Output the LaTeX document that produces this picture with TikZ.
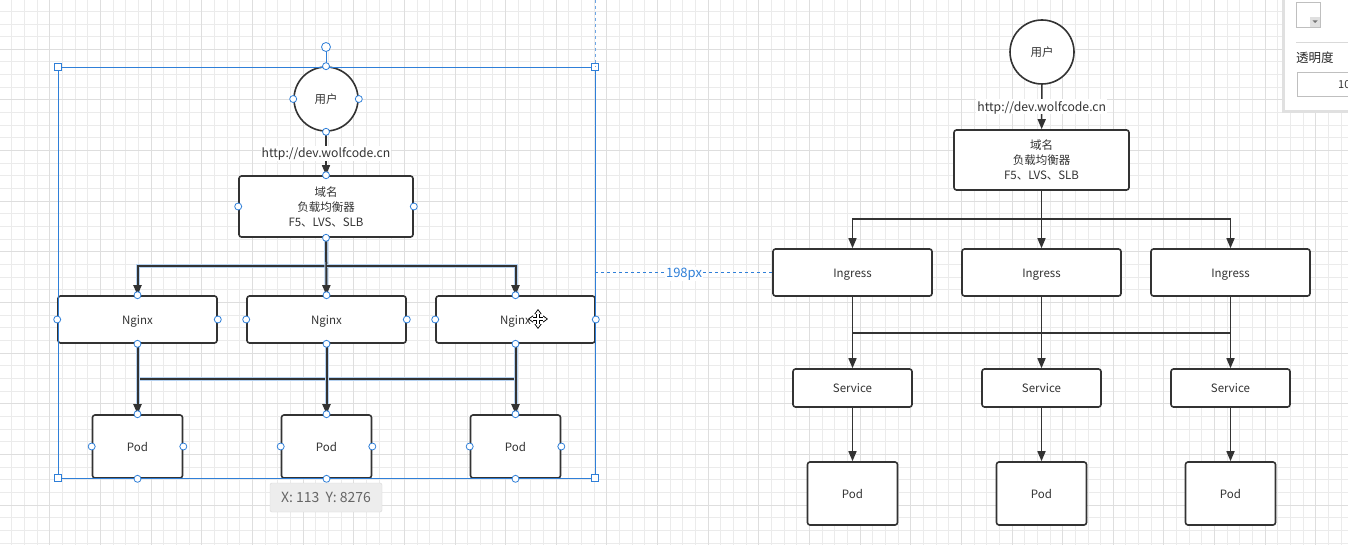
\documentclass[tikz,border=0pt]{standalone}
\usepackage{fontspec}
\setmainfont{Noto Sans CJK SC}
\usetikzlibrary{arrows.meta,positioning,calc}
\definecolor{linec}{HTML}{333333}
\definecolor{selc}{HTML}{2F7FD8}
\definecolor{gridc}{HTML}{EBEBEB}
\definecolor{gridm}{HTML}{DEDEDE}
\tikzset{
    >={Triangle[length=10pt,width=8pt]},
    user/.style={
        circle,
        draw=linec, line width=1.6pt,
        fill=white,
        minimum size=64pt,
        inner sep=0pt,
        text=linec,
        font={\fontsize{11.5pt}{13pt}\selectfont}
    },
    box/.style={
        rectangle,
        rounded corners=2.5pt,
        draw=linec, line width=1.6pt,
        fill=white,
        inner sep=0pt,
        align=center,
        text=linec,
        font={\fontsize{11.5pt}{15pt}\selectfont}
    },
    oneline/.style={text height=10pt, text depth=1pt},
    link/.style={draw=linec, line width=1.5pt},
    sellink/.style={draw=linec, line width=2pt,
        preaction={draw=selc!35, line width=4pt, -}},
    urlabel/.style={fill=white, inner sep=1pt, text=linec,
        text height=11pt, text depth=2pt,
        font={\fontsize{12.2pt}{14pt}\selectfont}},
    handle/.style={draw=selc, fill=white, line width=0.8pt},
}

\begin{document}
\begin{tikzpicture}[x=1pt,y=-1pt]
    \useasboundingbox (0,0) rectangle (1348,545);
    \fill[white] (0,0) rectangle (1348,545);

    % grid of the canvas
    \foreach \i in {0,...,107}
        \draw[gridc, line width=0.6pt] ({-0.96+12.66*\i},0) -- ++(0,545);
    \foreach \i in {0,...,44}
        \draw[gridc, line width=0.6pt] (0,{-1.5+12.66*\i}) -- ++(1348,0);
    \foreach \i in {0,...,27}
        \draw[gridm, line width=0.6pt] ({-0.96+50.64*\i},0) -- ++(0,545);
    \foreach \i in {0,...,11}
        \draw[gridm, line width=0.6pt] (0,{-1.5+50.64*\i}) -- ++(1348,0);

    % left diagram (selected)
    \node[user] (u1) at (326,99) {用户};
    \node[box, minimum width=174pt, minimum height=61pt] (lb1) at (326,206.5)
        {域名\\负载均衡器\\F5、LVS、SLB};

    \node[box, oneline, minimum width=159pt, minimum height=47pt] (ng1) at (137.5,319.5) {Nginx};
    \node[box, oneline, minimum width=159pt, minimum height=47pt] (ng2) at (326.5,319.5) {Nginx};
    \node[box, oneline, minimum width=159pt, minimum height=47pt] (ng3) at (515.5,319.5) {Nginx};

    \node[box, oneline, minimum width=90pt, minimum height=63pt] (pd1) at (137.5,446.5) {Pod};
    \node[box, oneline, minimum width=90pt, minimum height=63pt] (pd2) at (326.5,446.5) {Pod};
    \node[box, oneline, minimum width=90pt, minimum height=63pt] (pd3) at (515.5,446.5) {Pod};

    \coordinate (j1) at (326.5,266);
    \coordinate (b1) at (137.5,379);
    \coordinate (b3) at (515.5,379);

    \draw[link,->] (u1) -- (lb1) node[urlabel, midway] {http://dev.wolfcode.cn};
    \draw[sellink] (lb1) -- (j1);
    \draw[sellink,->] (j1) -| (ng1);
    \draw[sellink,->] (lb1) -- (ng2);
    \draw[sellink,->] (j1) -| (ng3);
    \draw[sellink] (b1) -- (b3);
    \foreach \k in {1,2,3}
        \draw[sellink,->] (ng\k) -- (pd\k);

    % selection frame and handles
    \draw[selc, line width=0.8pt] (58,67) rectangle (595,478);
    \draw[selc, line width=0.8pt] (326,51) -- (326,67);
    \path[handle] (326,47) circle (4.5pt);
    \foreach \p in {(58,67),(595,67),(58,478),(595,478)}
        \path[handle] \p ++(-3.5,-3.5) rectangle ++(7,7);
    \foreach \n in {u1,lb1,ng1,ng2,ng3,pd1,pd2,pd3}
        \foreach \a in {north,south,east,west}
            \path[handle] (\n.\a) circle (3.5pt);

    % move cursor
    \begin{scope}[shift={(538,319)}]
        \draw[black, line width=3.2pt, {Triangle[length=5pt,width=7pt]}-{Triangle[length=5pt,width=7pt]}]
            (-10,0) -- (10,0);
        \draw[black, line width=3.2pt, {Triangle[length=5pt,width=7pt]}-{Triangle[length=5pt,width=7pt]}]
            (0,-10) -- (0,10);
        \draw[white, line width=1.4pt, {Triangle[length=3.5pt,width=4.5pt]}-{Triangle[length=3.5pt,width=4.5pt]}]
            (-8.6,0) -- (8.6,0);
        \draw[white, line width=1.4pt, {Triangle[length=3.5pt,width=4.5pt]}-{Triangle[length=3.5pt,width=4.5pt]}]
            (0,-8.6) -- (0,8.6);
    \end{scope}

    % guides
    \draw[selc!70, dashed, line width=0.5pt] (595,0) -- (595,67);
    \draw[selc, dashed, line width=0.7pt] (595,272) -- (773,272)
        node[midway, fill=white, inner sep=1pt, text=selc, yshift=-2pt,
             font={\fontsize{13pt}{15pt}\selectfont}] {198px};

    % position tooltip
    \node[fill=black!7, draw=black!15, rounded corners=2pt, minimum width=112pt,
          minimum height=29pt, text=black!60, text height=11pt, text depth=2pt,
          font={\fontsize{14pt}{16pt}\selectfont}] (tip) at (326,497.5) {X: 113\ \ Y: 8276};

    % right diagram
    \node[user] (u2) at (1042,52) {用户};
    \node[box, minimum width=175pt, minimum height=60pt] (lb2) at (1041.5,160)
        {域名\\负载均衡器\\F5、LVS、SLB};

    \node[box, oneline, minimum width=159pt, minimum height=47pt] (in1) at (852.5,272.5) {Ingress};
    \node[box, oneline, minimum width=159pt, minimum height=47pt] (in2) at (1041.5,272.5) {Ingress};
    \node[box, oneline, minimum width=159pt, minimum height=47pt] (in3) at (1230.5,272.5) {Ingress};

    \node[box, oneline, minimum width=119pt, minimum height=38pt] (sv1) at (852.5,388) {Service};
    \node[box, oneline, minimum width=119pt, minimum height=38pt] (sv2) at (1041.5,388) {Service};
    \node[box, oneline, minimum width=119pt, minimum height=38pt] (sv3) at (1230.5,388) {Service};

    \node[box, oneline, minimum width=90pt, minimum height=63pt] (po1) at (852.5,493.5) {Pod};
    \node[box, oneline, minimum width=90pt, minimum height=63pt] (po2) at (1041.5,493.5) {Pod};
    \node[box, oneline, minimum width=90pt, minimum height=63pt] (po3) at (1230.5,493.5) {Pod};

    \coordinate (j2) at (1041.5,219);
    \coordinate (c1) at (852.5,333);
    \coordinate (c3) at (1230.5,333);

    \draw[link,->] (u2) -- (lb2) node[urlabel, midway] {http://dev.wolfcode.cn};
    \draw[link] (lb2) -- (j2);
    \draw[link,->] (j2) -| (in1);
    \draw[link,->] (lb2) -- (in2);
    \draw[link,->] (j2) -| (in3);
    \draw[link] (c1) -- (c3);
    \foreach \k in {1,2,3} {
        \draw[link,->] (in\k) -- (sv\k);
        \draw[link,->] (sv\k) -- (po\k);
    }

    % format panel
    \fill[black!12] (1282,0) rectangle (1348,113);
    \fill[white] (1285,0) rectangle (1348,110);
    \draw[black!25, line width=0.7pt] (1296,2) rectangle (1320,27);
    \fill[white] (1298,4) rectangle (1318,25);
    \fill[black!12] (1310,17) rectangle (1320,27);
    \fill[black!55] (1312.5,20.5) -- (1317.5,20.5) -- (1315,23) -- cycle;
    \draw[black!15, line width=0.7pt] (1296,42) -- (1348,42);
    \node[anchor=west, inner sep=0pt, text=black!85,
          font={\fontsize{12.5pt}{14pt}\selectfont}] (opac) at (1296,58) {透明度};
    \draw[black!25, line width=0.7pt, fill=white] (1297,72) rectangle (1360,96);
    \node[anchor=west, inner sep=0pt, text=black!80,
          font={\fontsize{11pt}{13pt}\selectfont}] (opv) at (1338,84.5) {10};
\end{tikzpicture}
\end{document}
